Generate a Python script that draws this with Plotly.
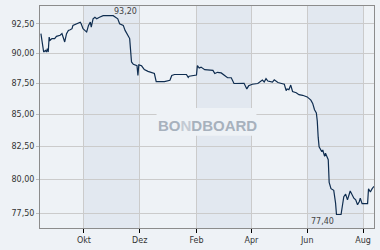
import plotly.graph_objects as go
import math

dates = [
    "2023-08-15", "2023-08-17", "2023-08-18", "2023-08-20", "2023-08-21", "2023-08-22", "2023-08-23",
    "2023-08-24", "2023-08-25", "2023-08-27", "2023-08-30", "2023-09-01", "2023-09-05", "2023-09-07",
    "2023-09-08", "2023-09-10", "2023-09-12", "2023-09-14", "2023-09-16", "2023-09-18", "2023-09-19",
    "2023-09-23", "2023-09-27", "2023-09-28", "2023-09-30", "2023-10-02", "2023-10-04", "2023-10-06",
    "2023-10-08", "2023-10-09", "2023-10-11", "2023-10-13", "2023-10-15", "2023-10-18", "2023-10-22",
    "2023-11-02", "2023-11-04", "2023-11-07", "2023-11-09", "2023-11-13", "2023-11-15", "2023-11-16",
    "2023-11-18", "2023-11-20", "2023-11-21", "2023-11-22", "2023-11-24", "2023-11-26", "2023-11-28",
    "2023-11-29", "2023-11-30", "2023-12-03", "2023-12-06", "2023-12-10", "2023-12-14", "2023-12-17",
    "2023-12-19", "2023-12-28", "2024-01-03", "2024-01-05", "2024-01-08", "2024-01-21", "2024-01-23",
    "2024-01-24", "2024-02-01", "2024-02-02", "2024-02-04", "2024-02-06", "2024-02-10", "2024-02-19",
    "2024-02-21", "2024-02-24", "2024-02-28", "2024-03-03", "2024-03-06", "2024-03-10", "2024-03-13",
    "2024-03-24", "2024-03-27", "2024-03-29", "2024-04-02", "2024-04-08", "2024-04-12", "2024-04-13",
    "2024-04-15", "2024-04-17", "2024-04-19", "2024-04-24", "2024-04-26", "2024-04-30", "2024-05-03",
    "2024-05-07", "2024-05-09", "2024-05-10", "2024-05-12", "2024-05-14", "2024-05-16", "2024-05-20",
    "2024-05-23", "2024-05-27", "2024-06-01", "2024-06-05", "2024-06-07", "2024-06-09", "2024-06-11",
    "2024-06-12", "2024-06-13", "2024-06-14", "2024-06-17", "2024-06-18", "2024-06-20", "2024-06-21",
    "2024-06-24", "2024-06-25", "2024-06-27", "2024-06-30", "2024-07-02", "2024-07-03", "2024-07-08",
    "2024-07-09", "2024-07-11", "2024-07-13", "2024-07-15", "2024-07-18", "2024-07-20", "2024-07-22",
    "2024-07-24", "2024-07-26", "2024-07-28", "2024-07-29", "2024-07-31", "2024-08-06", "2024-08-07",
    "2024-08-09", "2024-08-11", "2024-08-13",
]

prices = [
    91.65, 90.23, 90.09, 90.23, 90.09, 90.38, 90.09,
    91.36, 91.08, 91.23, 91.23, 91.42, 91.51, 91.65,
    91.36, 90.94, 91.65, 91.93, 91.99, 92.08, 92.36,
    92.50, 92.64, 92.50, 92.08, 91.93, 91.79, 92.36,
    92.64, 92.21, 92.93, 93.06, 92.93, 93.06, 93.20,
    93.20, 93.06, 92.93, 92.50, 92.36, 91.93, 91.79,
    91.51, 91.23, 90.23, 89.26, 89.06, 89.02, 88.94,
    88.14, 89.02, 88.94, 88.62, 88.48, 88.40, 88.30,
    87.63, 87.63, 87.74, 88.14, 88.22, 88.22, 87.98,
    88.08, 88.18, 88.96, 88.75, 88.83, 88.62, 88.56,
    88.30, 88.40, 88.35, 88.08, 87.95, 87.95, 87.48,
    87.50, 87.04, 87.29, 87.42, 87.48, 87.68, 87.76,
    87.60, 87.88, 87.68, 87.60, 87.78, 87.56, 87.50,
    87.42, 86.90, 87.04, 86.98, 87.35, 86.83, 86.73,
    86.57, 86.52, 86.39, 86.13, 85.87, 85.36, 85.10,
    84.47, 83.20, 82.45, 82.08, 82.21, 81.72, 81.96,
    81.47, 79.76, 79.29, 79.17, 78.23, 77.40, 77.40,
    77.99, 78.70, 78.89, 78.47, 79.12, 78.82, 78.59,
    78.47, 78.11, 78.35, 78.59, 78.19, 78.19, 79.29,
    79.05, 79.29, 79.46,
]

x_tick_dates = ["2023-10-01", "2023-12-01", "2024-02-01", "2024-04-01", "2024-06-01", "2024-08-01"]
x_tick_labels = ["Okt", "Dez", "Feb", "Apr", "Jun", "Aug"]
y_tick_values = [77.5, 80.0, 82.5, 85.0, 87.5, 90.0, 92.5]
x_range = ["2023-08-14", "2024-08-13"]
y_range = [76.43, 94.05]
watermark_parts = ["BO", "N", "DBOARD"]


def de(v):
    return f"{v:.2f}".replace(".", ",")


BG = "#eef2f6"
BAND = "#e2e8f0"
GRID = "#cbcbcb"
LINE = "#0f2d50"
WM = "#a7b1bd"
WM_LOGO = "#c3cad3"

fig = go.Figure()
fig.add_trace(go.Scatter(x=dates, y=prices, mode="lines",
                         line=dict(color=LINE, width=1.2), hoverinfo="skip"))

shapes = []
for i in range(0, len(x_tick_dates) - 1, 2):
    shapes.append(dict(type="rect", xref="x", yref="paper", x0=x_tick_dates[i], x1=x_tick_dates[i + 1],
                       y0=0, y1=1, fillcolor=BAND, line=dict(width=0), layer="below"))
# watermark backing box
shapes.append(dict(type="rect", xref="paper", yref="paper", x0=0.349, x1=0.648, y0=0.415, y1=0.541,
                   fillcolor=BG, line=dict(width=0), layer="above"))

vmax = max(prices)
vmin = min(prices)
i_max_last = len(prices) - 1 - prices[::-1].index(vmax)
i_min_first = prices.index(vmin)

wm_text = (f"<b>{watermark_parts[0]}</b>"
           f"<b><span style='color:{WM_LOGO}'>{watermark_parts[1]}</span></b>"
           f"<b>{watermark_parts[2]}</b>")

annotations = [
    dict(x=dates[i_max_last], y=math.log10(vmax), xref="x", yref="y", text=de(vmax), showarrow=False,
         xanchor="left", yanchor="bottom", xshift=-1, yshift=-2,
         font=dict(family="DejaVu Sans", size=8, color="#444")),
    dict(x=dates[i_min_first], y=math.log10(vmin), xref="x", yref="y", text=de(vmin), showarrow=False,
         xanchor="right", yanchor="top", xshift=0, yshift=0,
         font=dict(family="DejaVu Sans", size=8, color="#444")),
    dict(x=0.5, y=0.462, xref="paper", yref="paper", text=wm_text, showarrow=False,
         font=dict(family="Liberation Sans", size=15, color=WM)),
]

fig.update_layout(
    width=380, height=250,
    margin=dict(l=40, r=5, t=5, b=16),
    paper_bgcolor=BG, plot_bgcolor=BG,
    showlegend=False,
    shapes=shapes,
    annotations=annotations,
    font=dict(family="DejaVu Sans", size=8, color="#333"),
)
fig.update_xaxes(
    type="date", range=x_range,
    tickmode="array", tickvals=x_tick_dates, ticktext=x_tick_labels,
    ticks="outside", ticklen=4, tickcolor="#000", tickwidth=1,
    showgrid=True, gridcolor=GRID, gridwidth=1,
    showline=True, linecolor="#8c8c8c", linewidth=1, mirror=True,
    tickfont=dict(family="DejaVu Sans", size=8, color="#333"),
    zeroline=False,
)
fig.update_yaxes(
    type="log", range=[math.log10(y_range[0]), math.log10(y_range[1])],
    tickmode="array", tickvals=y_tick_values, ticktext=[de(v) for v in y_tick_values],
    ticks="outside", ticklen=3, tickcolor="#bbbbbb",
    showgrid=True, gridcolor=GRID, gridwidth=1,
    showline=True, linecolor="#8c8c8c", linewidth=1, mirror=True,
    tickfont=dict(family="DejaVu Sans", size=8, color="#333"),
    zeroline=False,
)

fig.write_html("out.html", config={"displayModeBar": False})
